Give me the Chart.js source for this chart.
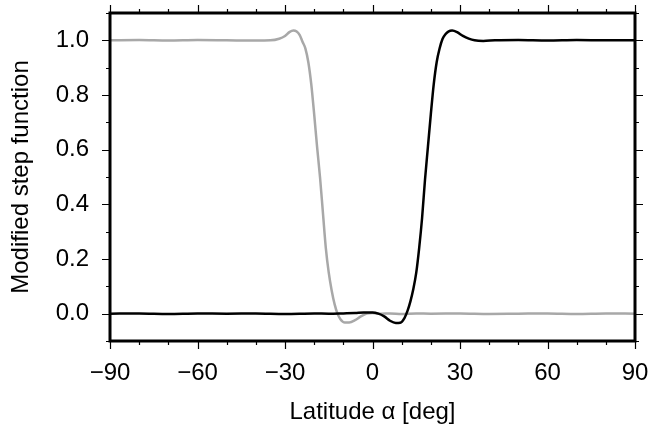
<!DOCTYPE html>
<html>
<head>
<meta charset="utf-8">
<script src="https://cdn.jsdelivr.net/npm/chart.js@4"></script>
<style>
  body { margin: 0; background: #fff; }
  #wrap { width: 649px; height: 437px; }
</style>
</head>
<body>
<div id="wrap"><canvas id="myChart"></canvas></div>
<script>
// latitude [deg] and values
var latBlack = [-90, -80, -70, -60, -50, -40, -30, -20, -15, -10, -6, -3, 0, 2, 4, 6, 8, 9.5, 11, 12, 13, 14, 15, 16, 17, 18, 19, 20, 21, 22, 23, 24, 25, 26, 27.3, 29, 31, 33, 35, 38, 42, 50, 60, 70, 80, 90];
var valBlack = [0, 0.001, -0.001, 0.001, 0, 0.001, -0.001, 0.001, 0, 0.001, 0.002, 0.004, 0.004, 0.0, -0.01, -0.026, -0.034, -0.033, -0.015, 0.01, 0.045, 0.09, 0.15, 0.24, 0.35, 0.49, 0.61, 0.73, 0.84, 0.92, 0.97, 1.005, 1.022, 1.032, 1.036, 1.03, 1.016, 1.006, 1.0, 0.998, 1.0, 1.001, 0.999, 1.001, 1.0, 1.0];

var latGray = [-90, -80, -70, -60, -50, -40, -35, -32, -30, -28.5, -27.1, -26, -25, -24, -23, -22, -21, -20, -19, -18, -17, -16, -15, -14, -13, -12, -11, -9.5, -8, -6, -4, -2, 0, 3, 6, 10, 15, 20, 30, 40, 50, 60, 70, 80, 90];
var valGray = [1.0, 1.001, 0.999, 1.001, 1.0, 0.999, 1.0, 1.006, 1.016, 1.03, 1.036, 1.032, 1.02, 0.995, 0.97, 0.92, 0.84, 0.73, 0.61, 0.5, 0.37, 0.24, 0.15, 0.085, 0.035, 0.0, -0.02, -0.032, -0.032, -0.024, -0.01, 0.0, 0.002, 0.0, 0.001, -0.001, 0.001, 0, 0.001, -0.001, 0, 0.001, -0.001, 0.001, 0];

var xLabels = [-90, -60, -30, 0, 30, 60, 90];
var yLabels = [0.0, 0.2, 0.4, 0.6, 0.8, 1.0];

function makePoints(xs, ys) {
    return xs.map(function (v, i) { return {x: v, y: ys[i]}; });
}

var fontSpec = {family: '"Liberation Sans", Arial, sans-serif', size: 24};

// GMT style frame with outside ticks on all four sides
var frameTicks = {
    id: 'frameTicks',
    afterDraw: function (chart) {
        var ctx = chart.ctx, a = chart.chartArea;
        var xs = chart.scales.x, ys = chart.scales.y;
        ctx.save();
        ctx.strokeStyle = '#000';
        ctx.lineWidth = 1.2;
        ctx.beginPath();
        for (var v = -90; v <= 90; v += 10) {
            var px = Math.round(xs.getPixelForValue(v)) + 0.5;
            var len = (v % 30 === 0) ? 8 : 4;
            ctx.moveTo(px, a.bottom); ctx.lineTo(px, a.bottom + len);
            ctx.moveTo(px, a.top); ctx.lineTo(px, a.top - len);
        }
        for (var k = -1; k <= 11; k++) {
            var py = Math.round(ys.getPixelForValue(k / 10)) + 0.5;
            var l2 = (k >= 0 && k <= 10 && k % 2 === 0) ? 8 : 4;
            ctx.moveTo(a.left, py); ctx.lineTo(a.left - l2, py);
            ctx.moveTo(a.right, py); ctx.lineTo(a.right + l2, py);
        }
        ctx.stroke();
        ctx.lineWidth = 3;
        ctx.strokeRect(a.left, a.top, a.right - a.left, a.bottom - a.top);
        ctx.restore();
    }
};

function noPad(scale) {
    scale.paddingTop = 0;
    scale.paddingBottom = 0;
    scale.paddingLeft = 0;
    scale.paddingRight = 0;
}

var ctx = document.getElementById('myChart').getContext('2d');

var config = {
    type: 'line',
    data: {
        datasets: [{
            label: 'black',
            data: makePoints(latBlack, valBlack),
            borderColor: '#000000',
            borderWidth: 2.5,
            pointRadius: 0,
            fill: false,
            cubicInterpolationMode: 'monotone'
        }, {
            label: 'gray',
            data: makePoints(latGray, valGray),
            borderColor: '#a8a8a8',
            borderWidth: 2.5,
            pointRadius: 0,
            fill: false,
            cubicInterpolationMode: 'monotone'
        }]
    },
    options: {
        responsive: true,
        maintainAspectRatio: false,
        animation: false,
        layout: {padding: {top: 13, right: 14, left: 0, bottom: 0}},
        plugins: {legend: {display: false}, tooltip: {enabled: false}},
        scales: {
            x: {
                type: 'linear',
                min: -90, max: 90,
                grid: {display: false, drawTicks: false},
                border: {display: false},
                afterBuildTicks: function (scale) {
                    scale.ticks = xLabels.map(function (v) { return {value: v}; });
                },
                afterFit: function (scale) { scale.height = 96; noPad(scale); },
                ticks: {
                    color: '#000',
                    font: fontSpec,
                    padding: 18,
                    maxRotation: 0,
                    autoSkip: false,
                    callback: function (v) { return v < 0 ? '\u2212' + Math.abs(v) : String(v); }
                },
                title: {
                    display: true,
                    text: 'Latitude \u03b1 [deg]',
                    color: '#000',
                    font: fontSpec,
                    padding: {top: 0, bottom: 10}
                }
            },
            y: {
                type: 'linear',
                min: -0.1, max: 1.1,
                grid: {display: false, drawTicks: false},
                border: {display: false},
                afterBuildTicks: function (scale) {
                    scale.ticks = yLabels.map(function (v) { return {value: v}; });
                },
                afterFit: function (scale) { scale.width = 110; noPad(scale); },
                ticks: {
                    color: '#000',
                    font: fontSpec,
                    padding: 21,
                    autoSkip: false,
                    callback: function (v) { return v.toFixed(1); }
                },
                title: {
                    display: true,
                    text: 'Modified step function',
                    color: '#000',
                    font: fontSpec,
                    padding: {top: 7, bottom: 5}
                }
            }
        }
    },
    plugins: [frameTicks]
};

var myChart = new Chart(ctx, config);
</script>
</body>
</html>
